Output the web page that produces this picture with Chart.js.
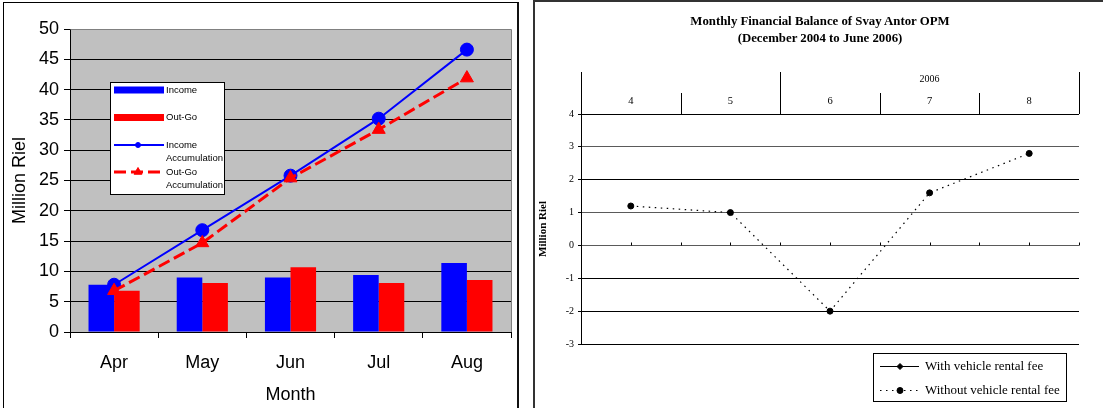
<!DOCTYPE html>
<html>
<head>
<meta charset="utf-8">
<script src="https://cdn.jsdelivr.net/npm/chart.js@4.4.1/dist/chart.umd.min.js"></script>
<style>
  html, body { margin: 0; padding: 0; background: #fff; overflow: hidden; width: 1103px; height: 408px; }
  #c1 { position: absolute; left: 0; top: 0; }
  #c2 { position: absolute; left: 530px; top: 0; }
  .frame { position: absolute; pointer-events: none; box-sizing: content-box; }
  #leftFrame { left: 3px; top: 2px; width: 513px; height: 430px; border: 1px solid #000; border-right: 2px solid #111; }
  #rightFrame { left: 533px; top: 0; width: 600px; height: 430px; border: 2px solid #333; }
  #balanceTitle { position: absolute; left: 620px; width: 400px; top: 13px; text-align: center;
    font: bold 12.8px "Liberation Serif", "Times New Roman", serif; line-height: 16.6px; color: #000; }
</style>
</head>
<body>
<canvas id="c1" width="530" height="408"></canvas>
<canvas id="c2" width="573" height="408"></canvas>
<div id="balanceTitle">Monthly Financial Balance of Svay Antor OPM<br>(December 2004 to June 2006)</div>
<div class="frame" id="leftFrame"></div>
<div class="frame" id="rightFrame"></div>
<script>
// ---- Income / Out-Go by month (million riel) ----
const months = ['Apr', 'May', 'Jun', 'Jul', 'Aug'];
const income = [7.8, 9.0, 9.0, 9.4, 11.4];
const outGo = [6.8, 8.1, 10.7, 8.1, 8.6];
const incomeAccum = [7.8, 16.8, 25.8, 35.2, 46.6];
const outGoAccum = [6.8, 14.7, 25.4, 33.4, 41.9];

// ---- Monthly balance (million riel) ----
const periods = ['4', '5', '6', '7', '8'];
const yearLabels = ['', '2006'];
const yearStarts = [0, 2];           // first period index under each year label
const withRentalFee = [null, null, null, null, null];
const withoutRentalFee = [1.2, 1.0, -2.0, 1.6, 2.8];

const SANS = '"Liberation Sans", Arial, sans-serif';
const SERIF = '"Liberation Serif", "Times New Roman", serif';

Chart.defaults.animation = false;
Chart.defaults.devicePixelRatio = 1;

// Grey plot background and frame for the income chart
const plotBackground = {
  id: 'plotBackground',
  beforeDraw(chart) {
    const { ctx, chartArea: a } = chart;
    ctx.save();
    ctx.fillStyle = '#C0C0C0';
    ctx.fillRect(a.left, a.top, a.right - a.left, a.bottom - a.top);
    ctx.restore();
  },
  afterDraw(chart) {
    const { ctx, chartArea: a } = chart;
    ctx.save();
    ctx.strokeStyle = '#808080';
    ctx.lineWidth = 1;
    ctx.beginPath();
    ctx.moveTo(Math.round(a.left) + 0.5, Math.round(a.top) + 0.5);
    ctx.lineTo(Math.round(a.right) + 0.5, Math.round(a.top) + 0.5);
    ctx.lineTo(Math.round(a.right) + 0.5, Math.round(a.bottom));
    ctx.stroke();
    ctx.restore();
  }
};

// Boxed legend inside the plot, long labels wrapped onto two lines
const boxLegend = {
  id: 'boxLegend',
  afterDraw(chart) {
    const ctx = chart.ctx;
    const box = { x: 110.5, y: 82.5, w: 114, h: 112 };
    const rows = [90, 117.5, 145, 172];
    ctx.save();
    ctx.fillStyle = '#fff';
    ctx.fillRect(box.x, box.y, box.w, box.h);
    ctx.strokeStyle = '#000';
    ctx.lineWidth = 1;
    ctx.strokeRect(box.x, box.y, box.w, box.h);
    ctx.font = '9.5px ' + SANS;
    ctx.textBaseline = 'middle';
    ctx.textAlign = 'left';
    chart.data.datasets.forEach((ds, i) => {
      const y = rows[i];
      if (ds.type === 'bar') {
        ctx.fillStyle = ds.backgroundColor;
        ctx.fillRect(114, y - 3.5, 50, 7);
      } else {
        ctx.save();
        ctx.strokeStyle = ds.borderColor;
        ctx.lineWidth = ds.borderWidth;
        ctx.setLineDash(ds.borderDash || []);
        ctx.beginPath();
        ctx.moveTo(114, y);
        ctx.lineTo(164, y);
        ctx.stroke();
        ctx.restore();
        ctx.fillStyle = ds.pointBackgroundColor;
        ctx.strokeStyle = ds.pointBorderColor;
        Chart.helpers.drawPoint(ctx, {
          pointStyle: ds.pointStyle,
          radius: ds.pointStyle === 'triangle' ? 4.5 : 2.5,
          borderWidth: 1
        }, 138, y);
      }
      ctx.fillStyle = '#000';
      ds.label.split(' ').forEach((line, k) => ctx.fillText(line, 166, y + k * 13.5));
    });
    ctx.restore();
  }
};

new Chart(document.getElementById('c1'), {
  data: {
    labels: months,
    datasets: [
      { type: 'bar', label: 'Income', data: income, backgroundColor: '#0000FF',
        categoryPercentage: 0.58, barPercentage: 1, order: 3 },
      { type: 'bar', label: 'Out-Go', data: outGo, backgroundColor: '#FF0000',
        categoryPercentage: 0.58, barPercentage: 1, order: 3 },
      { type: 'line', label: 'Income Accumulation', data: incomeAccum,
        borderColor: '#0000FF', borderWidth: 2, tension: 0,
        pointStyle: 'circle', pointRadius: 6.5, pointBackgroundColor: '#0000FF',
        pointBorderColor: '#0000FF', pointBorderWidth: 1, order: 2 },
      { type: 'line', label: 'Out-Go Accumulation', data: outGoAccum,
        borderColor: '#FF0000', borderWidth: 3, borderDash: [12, 5], tension: 0,
        pointStyle: 'triangle', pointRadius: 7.5, pointBackgroundColor: '#FF0000',
        pointBorderColor: '#FF0000', pointBorderWidth: 1, order: 1 }
    ]
  },
  options: {
    responsive: false,
    layout: { padding: { left: 0, right: 19, top: 29, bottom: 0 } },
    plugins: { legend: { display: false }, tooltip: { enabled: false }, title: { display: false } },
    scales: {
      x: {
        offset: true,
        grid: { display: true, offset: true, drawOnChartArea: false, drawTicks: true, tickLength: 6, color: '#000' },
        border: { display: true, color: '#000', width: 1 },
        ticks: { font: { family: SANS, size: 18 }, color: '#000', padding: 14 },
        title: { display: true, text: 'Month', font: { family: SANS, size: 18 }, color: '#000',
                 padding: { top: 0, bottom: 2 } },
        afterFit(s) { s.height = 76; }
      },
      y: {
        min: 0, max: 50,
        ticks: { stepSize: 5, font: { family: SANS, size: 18 }, color: '#000', padding: 5 },
        grid: { color: c => (c.tick && c.tick.value === 50 ? '#808080' : '#000'), lineWidth: 1,
                drawTicks: true, tickLength: 6, tickColor: '#000' },
        border: { display: true, color: '#000', width: 1 },
        title: { display: true, text: 'Million Riel', font: { family: SANS, size: 18 }, color: '#000',
                 padding: { top: 9, bottom: 0 } },
        afterFit(s) { s.width = 70; }
      }
    }
  },
  plugins: [plotBackground, boxLegend]
});

// Two-level period header above the plot and tick marks along the zero line
const periodHeader = {
  id: 'periodHeader',
  afterDraw(chart) {
    const { ctx, chartArea: a } = chart;
    const xs = chart.scales.x, ys = chart.scales.y;
    const n = chart.data.labels.length;
    const half = (xs.getPixelForValue(1) - xs.getPixelForValue(0)) / 2;
    const edge = k => Math.round(xs.getPixelForValue(k) - half) + 0.5;
    const top = Math.round(xs.top), mid = Math.round(xs.top + (a.top - xs.top) / 2);
    ctx.save();
    ctx.strokeStyle = '#000';
    ctx.lineWidth = 1;
    ctx.beginPath();
    for (let k = 0; k <= n; k++) {
      const long = k === n || yearStarts.includes(k);
      ctx.moveTo(edge(k), long ? top : mid);
      ctx.lineTo(edge(k), a.top);
    }
    // small marks on the zero line at every period centre and boundary
    const y0 = Math.round(ys.getPixelForValue(0)) + 0.5;
    for (let k = 0; k <= n * 2; k++) {
      const x = Math.round(xs.getPixelForValue(k / 2) - half) + 0.5;
      ctx.moveTo(x, y0 - 3);
      ctx.lineTo(x, y0);
    }
    ctx.stroke();
    ctx.fillStyle = '#000';
    ctx.font = '10px ' + SERIF;
    ctx.textAlign = 'center';
    ctx.textBaseline = 'middle';
    yearLabels.forEach((lbl, g) => {
      const first = yearStarts[g];
      const last = g + 1 < yearStarts.length ? yearStarts[g + 1] - 1 : n - 1;
      const cx = (xs.getPixelForValue(first) + xs.getPixelForValue(last)) / 2;
      ctx.fillText(lbl, cx, top + 7.5);
    });
    ctx.restore();
  }
};

const lineLegend = {
  id: 'lineLegend',
  afterDraw(chart) {
    const ctx = chart.ctx;
    const box = { x: 343.5, y: 353.5, w: 193, h: 48 };
    const rows = [366, 390];
    ctx.save();
    ctx.fillStyle = '#fff';
    ctx.fillRect(box.x, box.y, box.w, box.h);
    ctx.strokeStyle = '#000';
    ctx.lineWidth = 1;
    ctx.strokeRect(box.x, box.y, box.w, box.h);
    ctx.font = '13px ' + SERIF;
    ctx.textAlign = 'left';
    ctx.textBaseline = 'middle';
    chart.data.datasets.forEach((ds, i) => {
      const y = rows[i] + 0.5;
      ctx.save();
      ctx.strokeStyle = ds.borderColor;
      ctx.lineWidth = ds.borderWidth;
      ctx.setLineDash(ds.borderDash || []);
      ctx.beginPath();
      ctx.moveTo(350, y);
      ctx.lineTo(389, y);
      ctx.stroke();
      ctx.restore();
      ctx.fillStyle = ds.pointBackgroundColor;
      ctx.strokeStyle = ds.pointBorderColor;
      Chart.helpers.drawPoint(ctx, { pointStyle: ds.pointStyle, radius: 3, borderWidth: 1 }, 370, y);
      ctx.fillStyle = '#000';
      ctx.fillText(ds.label, 395, y);
    });
    ctx.restore();
  }
};

new Chart(document.getElementById('c2'), {
  type: 'line',
  data: {
    labels: periods,
    datasets: [
      { label: 'With vehicle rental fee', data: withRentalFee, borderColor: '#000', borderWidth: 1,
        pointStyle: 'rectRot', pointRadius: 3.5, pointBackgroundColor: '#000', pointBorderColor: '#000' },
      { label: 'Without vehicle rental fee', data: withoutRentalFee, borderColor: '#000', borderWidth: 1.2,
        borderDash: [1.5, 4.5], tension: 0,
        pointStyle: 'circle', pointRadius: 3, pointBackgroundColor: '#000', pointBorderColor: '#000',
        pointBorderWidth: 1 }
    ]
  },
  options: {
    responsive: false,
    layout: { padding: { left: 0, right: 24, top: 72, bottom: 64 } },
    plugins: { legend: { display: false }, tooltip: { enabled: false }, title: { display: false } },
    scales: {
      x: {
        position: 'top',
        offset: true,
        grid: { display: false, drawTicks: false, tickLength: 0 },
        border: { display: false },
        ticks: { font: { family: SERIF, size: 10.5 }, color: '#000', padding: 6 },
        afterFit(s) { s.height = 42; }
      },
      y: {
        min: -3, max: 4,
        ticks: { stepSize: 1, font: { family: SERIF, size: 10 }, color: '#000', padding: 4 },
        grid: { color: c => (c.tick && [3, 1, 0].includes(c.tick.value) ? '#5a5a5a' : '#000'),
                tickColor: '#000', lineWidth: 1, drawTicks: true, tickLength: 3 },
        border: { display: true, color: '#000', width: 1 },
        title: { display: true, text: 'Million Riel', font: { family: SERIF, size: 11, weight: 'bold' },
                 color: '#000', padding: { top: 7, bottom: 0 } },
        afterFit(s) { s.width = 51; }
      }
    }
  },
  plugins: [periodHeader, lineLegend]
});
</script>
</body>
</html>
